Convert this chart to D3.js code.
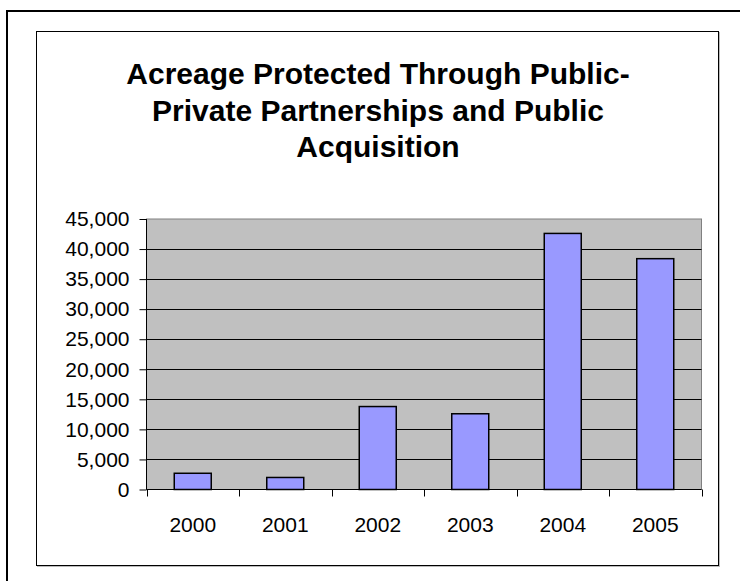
<!DOCTYPE html>
<html>
<head>
<meta charset="utf-8">
<script src="https://cdn.jsdelivr.net/npm/d3@7"></script>
<style>
  body { margin: 0; background: #fff; }
  svg { display: block; font-family: "Liberation Sans", Arial, sans-serif; }
</style>
</head>
<body>
<script>
// chart data
let years = ["2000", "2001", "2002", "2003", "2004", "2005"];
let acres = [2700, 2000, 13800, 12600, 42600, 38400];
let yTicks = [0, 5000, 10000, 15000, 20000, 25000, 30000, 35000, 40000, 45000];
let titleLines = ["Acreage Protected Through Public-", "Private Partnerships and Public", "Acquisition"];

let width = 740, height = 581;
let plot = {left: 146.5, right: 701.5, top: 219, bottom: 489.5};

let svg = d3.select("body").append("svg")
  .attr("width", width)
  .attr("height", height);

// outer frame (runs off the page at right and bottom)
svg.append("rect")
  .attr("x", 7).attr("y", 11)
  .attr("width", 760).attr("height", 600)
  .attr("fill", "none")
  .attr("stroke", "#000")
  .attr("stroke-width", 2);

// chart area border with a light shadow
svg.append("rect")
  .attr("x", 37.5).attr("y", 32.5)
  .attr("width", 682).attr("height", 534)
  .attr("fill", "none")
  .attr("stroke", "#bbb");
svg.append("rect")
  .attr("x", 36.5).attr("y", 31.5)
  .attr("width", 682).attr("height", 534)
  .attr("fill", "#fff")
  .attr("stroke", "#000");

// title
svg.append("g").selectAll("text")
  .data(titleLines)
  .enter().append("text")
  .attr("x", 378)
  .attr("y", function(d, i) { return 84 + i * 36.5; })
  .attr("text-anchor", "middle")
  .attr("font-size", 30)
  .attr("font-weight", "bold")
  .text(function(d) { return d; });

// scales
let x = d3.scaleBand()
  .domain(years)
  .range([plot.left, plot.right])
  .paddingInner(0.6)
  .paddingOuter(0.3);

let y = d3.scaleLinear()
  .domain([0, 45000])
  .range([plot.bottom, plot.top]);

// plot area background
svg.append("rect")
  .attr("x", plot.left).attr("y", plot.top)
  .attr("width", plot.right - plot.left)
  .attr("height", plot.bottom - plot.top)
  .attr("fill", "#c0c0c0")
  .attr("stroke", "#808080");

// gridlines
svg.append("g").selectAll("line")
  .data(yTicks.filter(function(d) { return d > 0 && d < 45000; }))
  .enter().append("line")
  .attr("x1", plot.left).attr("x2", plot.right)
  .attr("y1", function(d) { return Math.round(y(d)) + 0.5; })
  .attr("y2", function(d) { return Math.round(y(d)) + 0.5; })
  .attr("stroke", "#000");

// bars
svg.append("g").selectAll("rect")
  .data(acres)
  .enter().append("rect")
  .attr("x", function(d, i) { return x(years[i]); })
  .attr("y", function(d) { return y(d); })
  .attr("width", x.bandwidth())
  .attr("height", function(d) { return y(0) - y(d); })
  .attr("fill", "#9999ff")
  .attr("stroke", "#000")
  .attr("stroke-width", 1.5);

// y axis
let yAxis = d3.axisLeft(y)
  .tickValues(yTicks)
  .tickSize(7)
  .tickPadding(10)
  .tickFormat(d3.format(","));
let gy = svg.append("g")
  .attr("transform", "translate(" + plot.left + ",0)")
  .call(yAxis);
gy.selectAll("text")
  .attr("font-size", 21)
  .attr("font-family", "Liberation Sans, Arial, sans-serif")
  .attr("fill", "#000");
gy.selectAll("line").attr("stroke", "#000");
gy.select(".domain").attr("stroke", "#000").attr("d", "M0," + plot.top + "V" + plot.bottom);

// x axis with ticks at band edges
let xAxis = d3.axisBottom(x).tickSize(0).tickPadding(28);
let gx = svg.append("g")
  .attr("transform", "translate(0," + plot.bottom + ")")
  .call(xAxis);
gx.select(".domain").attr("stroke", "#000").attr("d", "M" + plot.left + ",0H" + plot.right);
gx.selectAll("text")
  .attr("font-size", 21)
  .attr("font-family", "Liberation Sans, Arial, sans-serif")
  .attr("fill", "#000");

let step = (plot.right - plot.left) / years.length;
gx.selectAll(".edge")
  .data(d3.range(years.length + 1))
  .enter().append("line")
  .attr("class", "edge")
  .attr("x1", function(d) { return Math.round(plot.left + d * step) + 0.5; })
  .attr("x2", function(d) { return Math.round(plot.left + d * step) + 0.5; })
  .attr("y1", 0).attr("y2", 7)
  .attr("stroke", "#000");
</script>
</body>
</html>
